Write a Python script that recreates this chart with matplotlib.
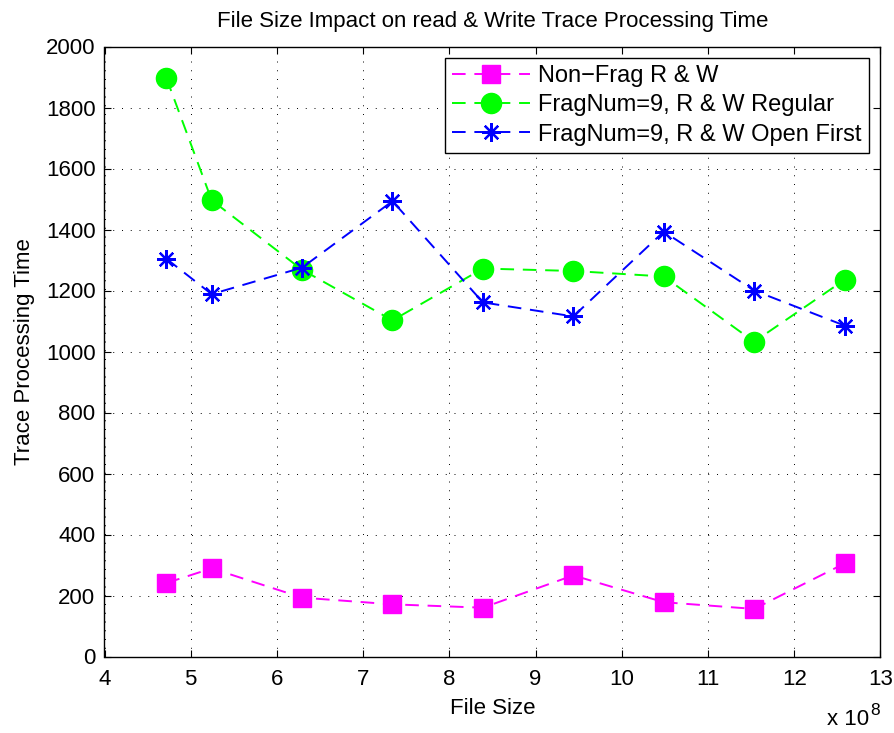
import matplotlib
matplotlib.use("Agg")
import matplotlib.pyplot as plt
from matplotlib.ticker import FuncFormatter, MultipleLocator

plt.rcParams['font.family'] = ['Liberation Sans', 'DejaVu Sans']

# File sizes in bytes
file_size = [471859200, 524288000, 629145600, 734003200, 838860800,
             943718400, 1048576000, 1153433600, 1258291200]
non_frag = [241, 289, 193, 171, 160, 266, 178, 156, 305]
frag_regular = [1896, 1496, 1268, 1102, 1272, 1264, 1246, 1032, 1235]
frag_open_first = [1304, 1188, 1275, 1493, 1161, 1115, 1393, 1200, 1085]

labels = ['Non\u2212Frag R & W', 'FragNum=9, R & W Regular',
          'FragNum=9, R & W Open First']
title = 'File Size Impact on read & Write Trace Processing Time'
xlabel = 'File Size'
ylabel = 'Trace Processing Time'

fs = 16
W, H = 895, 733
fig = plt.figure(figsize=(W/100, H/100), dpi=100)
ax = fig.add_axes([104.5/W, 1-656.5/H, (880.5-104.5)/W, (656.5-46.5)/H])

dash = (0, (7, 4.5))
lw = 1.4
ax.plot(file_size, non_frag, color='#FF00FF', ls=dash, lw=lw, marker='s',
        ms=12.7, mfc='#FF00FF', mec='#FF00FF', label=labels[0])
ax.plot(file_size, frag_regular, color='#00FF00', ls=dash, lw=lw, marker='o',
        ms=14.5, mfc='#00FF00', mec='#00FF00', label=labels[1])
ax.plot(file_size, frag_open_first, color='#0000FF', ls=dash, lw=lw,
        marker=(8, 2, 0), ms=13.5, mew=1.6, mfc='#0000FF', mec='#0000FF',
        label=labels[2])

ax.set_xlim(4e8, 13e8)
ax.set_ylim(0, 2000)
ax.xaxis.set_major_locator(MultipleLocator(1e8))
ax.yaxis.set_major_locator(MultipleLocator(200))
ax.xaxis.set_major_formatter(FuncFormatter(lambda v, p: f"{v/1e8:.0f}"))

ax.grid(True, color='black', ls=(0, (1, 8)), lw=0.7)
ax.tick_params(direction='in', top=True, right=True, length=5, width=0.8,
               labelsize=fs)
ax.tick_params(axis='x', pad=9)
ax.tick_params(axis='y', pad=6.5)
for s in ax.spines.values():
    s.set_linewidth(1.0)

ax.set_title(title, fontsize=fs, pad=14)
ax.set_xlabel(xlabel, fontsize=fs, labelpad=6)
ax.set_ylabel(ylabel, fontsize=fs, labelpad=8)

fig.text(827/W, 1-725/H, 'x 10', fontsize=fs, ha='left', va='baseline')
fig.text(870/W, 1-715/H, '8', fontsize=12.5, ha='left', va='baseline')

leg = ax.legend(loc='upper right', fontsize=17, handlelength=3.3,
                labelspacing=0.3, borderpad=0.3, handletextpad=0.35,
                borderaxespad=0.5, fancybox=False, framealpha=1,
                edgecolor='black', markerscale=1.0)
leg.get_frame().set_linewidth(1.0)

fig.savefig('out.png', dpi=100)
